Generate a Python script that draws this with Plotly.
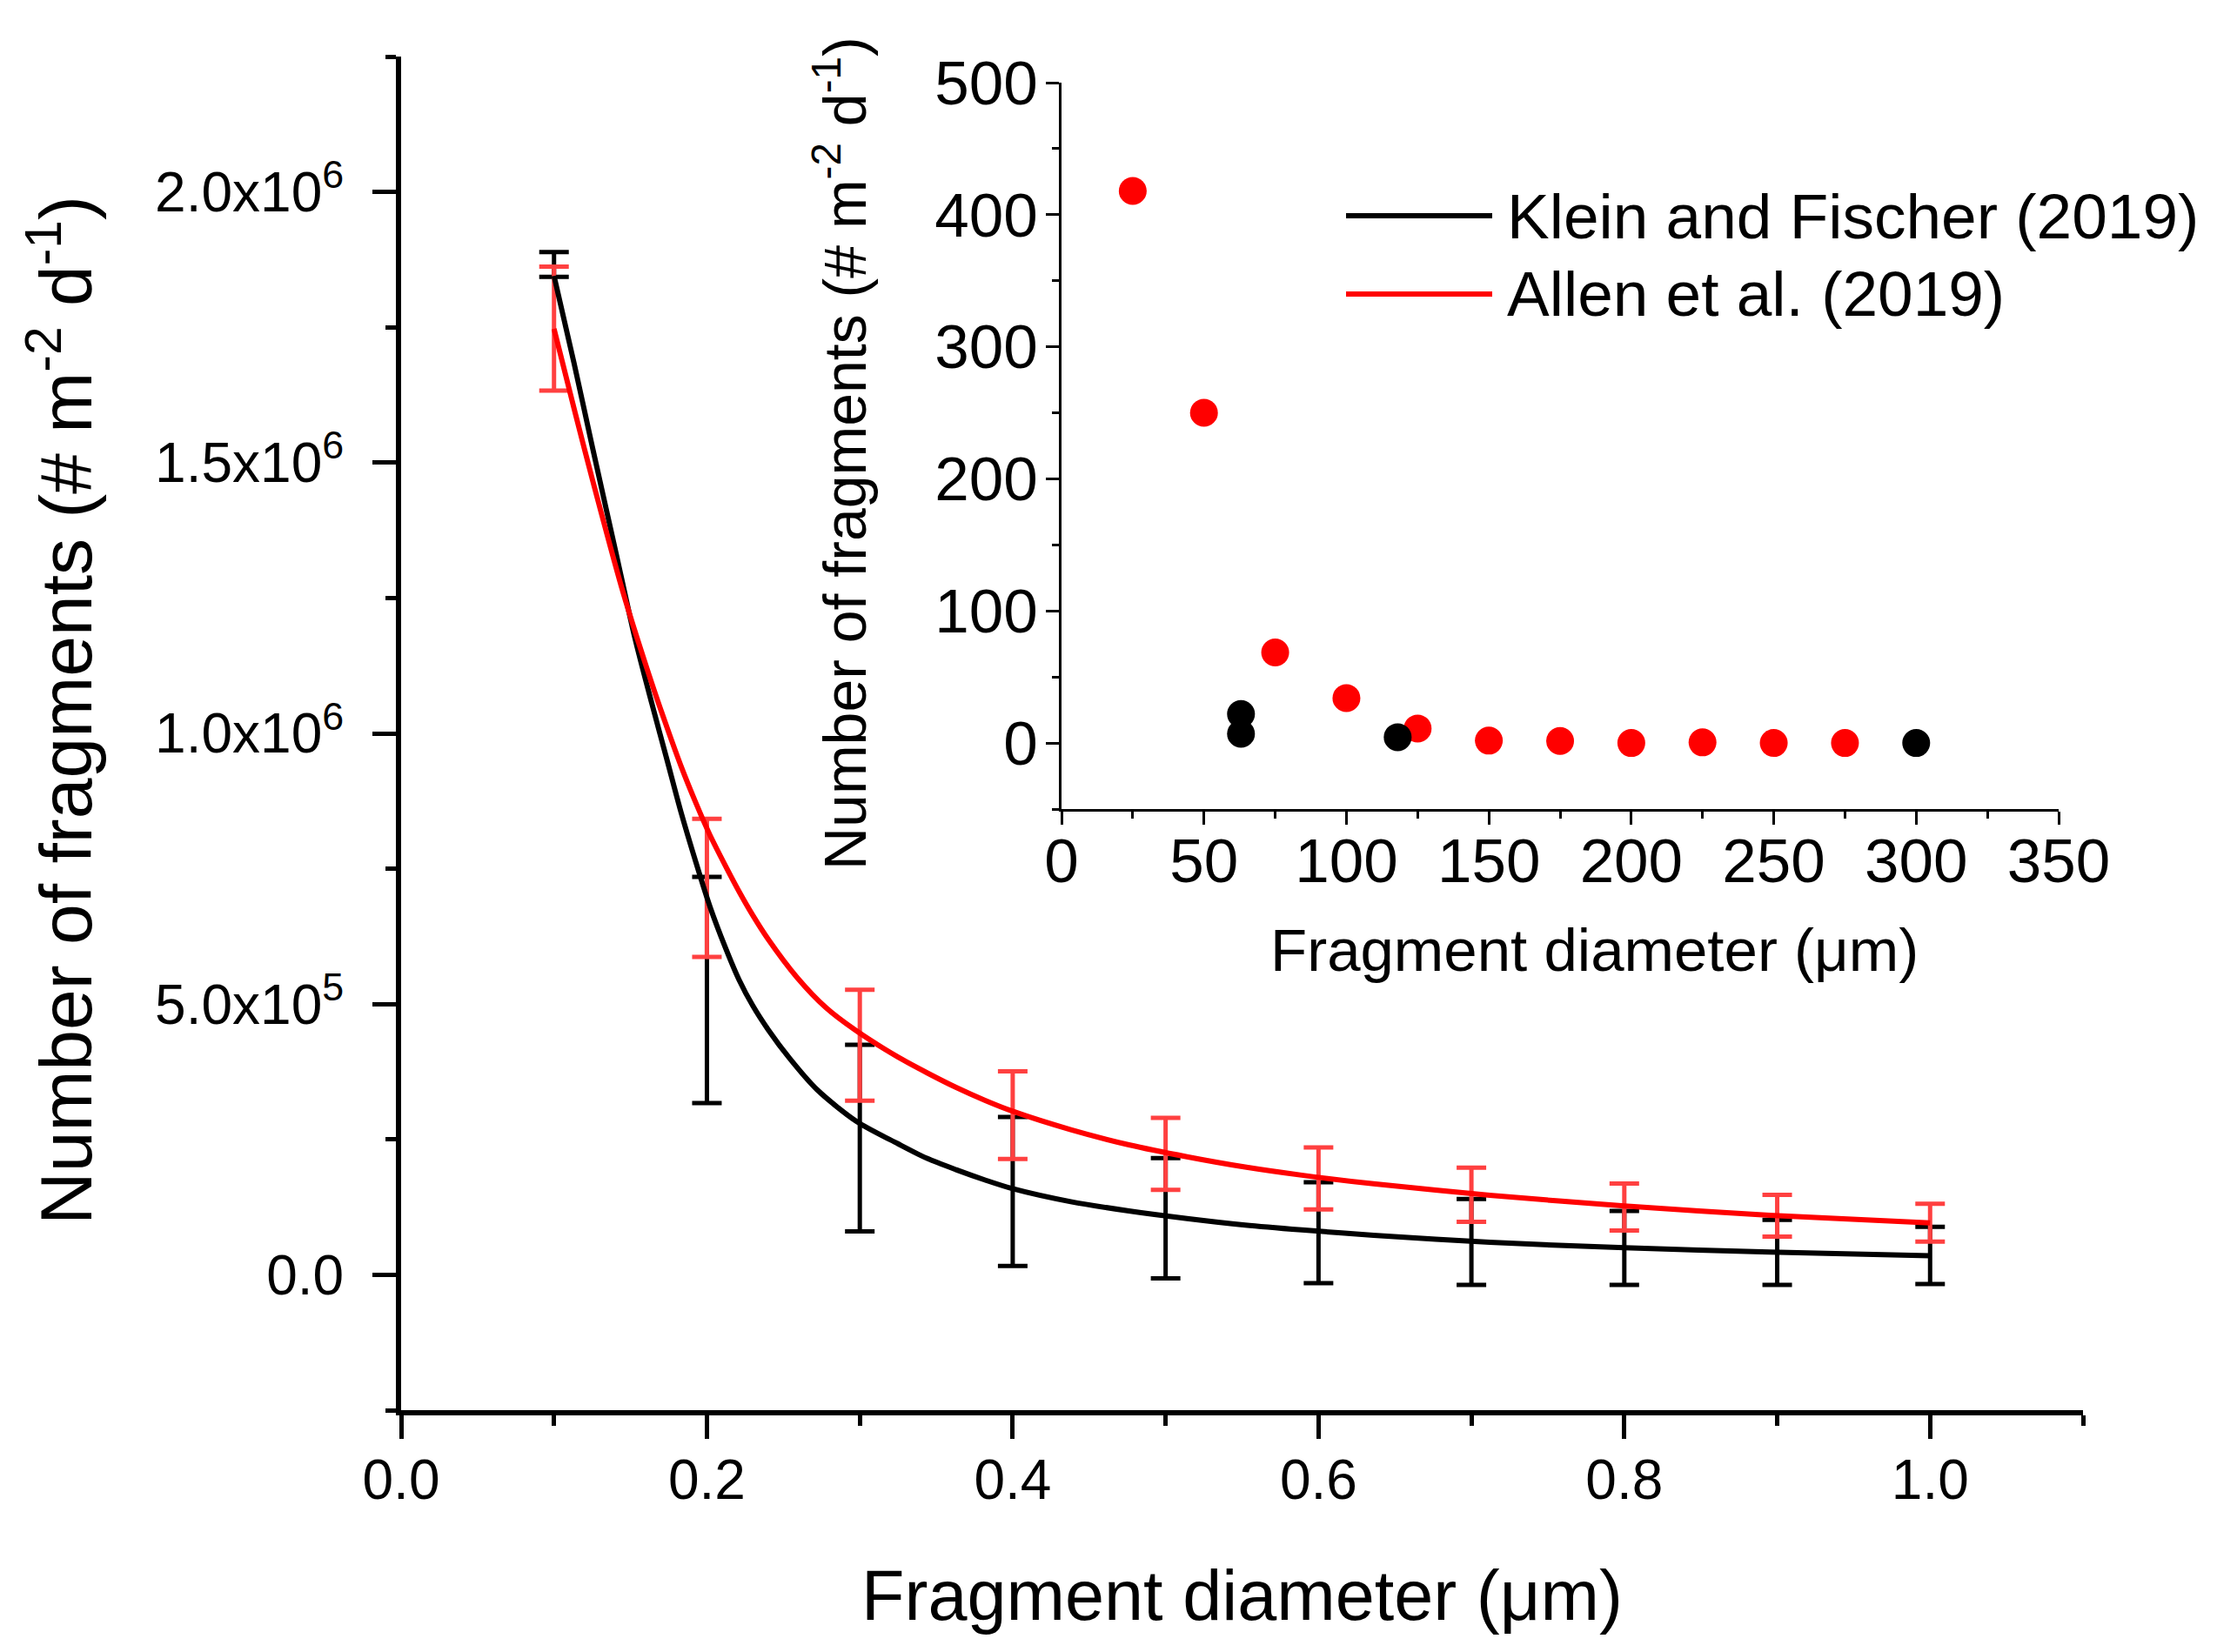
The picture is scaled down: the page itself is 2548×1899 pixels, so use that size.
import plotly.graph_objects as go

W, H = 2548, 1899
FONT = "Liberation Sans, Arial, sans-serif"
PAGE_OFFSET = 8  # default body margin of the html page

# ---- main plot: error-bar data (mean, sd) ----
err_x = [0.1, 0.2, 0.3, 0.4, 0.5, 0.6, 0.7, 0.8, 0.9, 1.0]
klein_mean = [1.866e6, 0.526e6, 0.2525e6, 0.154e6, 0.1045e6, 0.0778e6, 0.0607e6, 0.0497e6, 0.0414e6, 0.0358e6]
klein_sd = [0.023e6, 0.209e6, 0.1725e6, 0.1375e6, 0.1109e6, 0.0933e6, 0.0794e6, 0.0684e6, 0.0601e6, 0.0529e6]
allen_mean = [1.7475e6, 0.7145e6, 0.4241e6, 0.2948e6, 0.2235e6, 0.178e6, 0.1478e6, 0.1251e6, 0.109e6, 0.0962e6]
allen_sd = [0.1145e6, 0.1275e6, 0.1024e6, 0.081e6, 0.0665e6, 0.0573e6, 0.05e6, 0.0433e6, 0.0385e6, 0.0348e6]

# ---- main plot: fitted curves ----
klein_fit_x = [0.100, 0.113, 0.125, 0.140, 0.153, 0.164, 0.174, 0.183, 0.193, 0.202, 0.212, 0.221, 0.230,
               0.240, 0.254, 0.272, 0.298, 0.325, 0.344, 0.363, 0.382, 0.400, 0.438, 0.476, 0.514, 0.552,
               0.589, 0.636, 0.712, 0.800, 0.895, 1.000]
klein_fit_y = [1.845e6, 1.685e6, 1.530e6, 1.340e6, 1.175e6, 1.055e6, 0.950e6, 0.855e6, 0.760e6, 0.680e6,
               0.605e6, 0.545e6, 0.497e6, 0.453e6, 0.400e6, 0.342e6, 0.283e6, 0.242e6, 0.215e6, 0.194e6,
               0.175e6, 0.159e6, 0.135e6, 0.118e6, 0.104e6, 0.092e6, 0.083e6, 0.073e6, 0.060e6, 0.050e6,
               0.042e6, 0.035e6]
allen_fit_x = [0.100, 0.114, 0.125, 0.145, 0.164, 0.174, 0.183, 0.193, 0.202, 0.212, 0.221, 0.230, 0.240,
               0.259, 0.278, 0.297, 0.325, 0.344, 0.363, 0.382, 0.400, 0.438, 0.476, 0.514, 0.552, 0.589,
               0.636, 0.712, 0.800, 0.895, 1.000]
allen_fit_y = [1.747e6, 1.590e6, 1.470e6, 1.262e6, 1.092e6, 1.010e6, 0.940e6, 0.870e6, 0.812e6, 0.756e6,
               0.708e6, 0.664e6, 0.620e6, 0.549e6, 0.493e6, 0.452e6, 0.402e6, 0.373e6, 0.346e6, 0.322e6,
               0.302e6, 0.268e6, 0.240e6, 0.218e6, 0.199e6, 0.184e6, 0.168e6, 0.147e6, 0.127e6, 0.110e6,
               0.096e6]

# ---- inset scatter data ----
allen_d = [25, 50, 75, 100, 125, 150, 175, 200, 225, 250, 275]
allen_n = [418, 250, 68.6, 34, 11, 1.8, 1.5, 0, 0.5, 0, 0]
klein_d = [63, 63, 118, 300]
klein_n = [22, 7, 4.4, 0]

# ---- labels ----
series_names = ["Klein and Fischer (2019)", "Allen et al. (2019)"]
main_ytick_vals = [0, 0.5e6, 1.0e6, 1.5e6, 2.0e6]
main_ytick_text = ["0.0", "5.0x10<sup>5</sup>", "1.0x10<sup>6</sup>", "1.5x10<sup>6</sup>", "2.0x10<sup>6</sup>"]
main_xtick_vals = [0, 0.2, 0.4, 0.6, 0.8, 1.0]
x_title = "Fragment diameter (\u03bcm)"
y_title = "Number of fragments (# m<sup>-2</sup> d<sup>-1</sup>)"

RED = "#ff0000"
RED_ERR = "#ff4040"

fig = go.Figure()

# error bars (no markers)
fig.add_trace(go.Scatter(x=err_x, y=klein_mean, mode="markers", marker=dict(size=1, opacity=0),
                         error_y=dict(type="data", array=klein_sd, color="black", thickness=5, width=17),
                         showlegend=False, xaxis="x", yaxis="y"))
fig.add_trace(go.Scatter(x=err_x, y=allen_mean, mode="markers", marker=dict(size=1, opacity=0),
                         error_y=dict(type="data", array=allen_sd, color=RED_ERR, thickness=5, width=17),
                         showlegend=False, xaxis="x", yaxis="y"))
# fitted curves
fig.add_trace(go.Scatter(x=klein_fit_x, y=klein_fit_y, mode="lines",
                         line=dict(color="black", width=6, shape="spline", smoothing=0.8),
                         name=series_names[0], showlegend=False, xaxis="x", yaxis="y"))
fig.add_trace(go.Scatter(x=allen_fit_x, y=allen_fit_y, mode="lines",
                         line=dict(color=RED, width=6, shape="spline", smoothing=0.8),
                         name=series_names[1], showlegend=False, xaxis="x", yaxis="y"))

# inset
fig.add_trace(go.Scatter(x=allen_d, y=allen_n, mode="markers", marker=dict(color=RED, size=32, line=dict(width=0)),
                         showlegend=False, xaxis="x2", yaxis="y2", cliponaxis=False))
fig.add_trace(go.Scatter(x=klein_d, y=klein_n, mode="markers", marker=dict(color="black", size=32, line=dict(width=0)),
                         showlegend=False, xaxis="x2", yaxis="y2", cliponaxis=False))


def px_x(p):
    return (p - PAGE_OFFSET) / W


def px_y(p):
    return 1 - (p - PAGE_OFFSET) / H


main_axis_common = dict(showline=True, linecolor="black", linewidth=6, mirror=False, showgrid=False, zeroline=False,
                        automargin=False, ticks="outside", tickcolor="black", tickwidth=5, ticklen=27,
                        tickfont=dict(family=FONT, size=64, color="black"))
inset_axis_common = dict(showline=True, linecolor="black", linewidth=3, mirror=False, showgrid=False, zeroline=False,
                         automargin=False, ticks="outside", tickcolor="black", tickwidth=3, ticklen=15,
                         tickfont=dict(family=FONT, size=71, color="black"))

fig.update_layout(
    width=W, height=H,
    margin=dict(l=0, r=0, t=0, b=0, pad=0, autoexpand=False),
    paper_bgcolor="white", plot_bgcolor="rgba(0,0,0,0)",
    showlegend=False,
    font=dict(family=FONT, color="black"),
    xaxis=dict(domain=[px_x(461), px_x(2394)], range=[0, 1.1], tickvals=main_xtick_vals,
               tickformat=".1f", anchor="y", ticklabelstandoff=-8,
               minor=dict(dtick=0.1, tick0=0, ticks="outside", ticklen=12, tickwidth=5, tickcolor="black"),
               **main_axis_common),
    yaxis=dict(domain=[px_y(1621), px_y(65)], range=[-0.25e6, 2.25e6], tickvals=main_ytick_vals,
               ticktext=main_ytick_text, anchor="x", ticklabelstandoff=20,
               minor=dict(dtick=0.25e6, tick0=0, ticks="outside", ticklen=12, tickwidth=5, tickcolor="black"),
               **main_axis_common),
    xaxis2=dict(domain=[px_x(1220), px_x(2366)], range=[0, 350], dtick=50, anchor="y2", ticklabelstandoff=-19,
                minor=dict(dtick=25, tick0=0, ticks="outside", ticklen=8, tickwidth=3, tickcolor="black"),
                **inset_axis_common),
    yaxis2=dict(domain=[px_y(930), px_y(95)], range=[-50, 500], dtick=100, anchor="x2", ticklabelstandoff=-5,
                minor=dict(dtick=50, tick0=0, ticks="outside", ticklen=8, tickwidth=3, tickcolor="black"),
                **inset_axis_common),
)

annotations = [
    dict(text=x_title, x=px_x(1427), y=px_y(1834), xref="paper", yref="paper", showarrow=False,
         xanchor="center", yanchor="middle", font=dict(family=FONT, size=81, color="black")),
    dict(text=y_title, x=px_x(70), y=px_y(817), xref="paper", yref="paper", showarrow=False, textangle=-90,
         xanchor="center", yanchor="middle", font=dict(family=FONT, size=84, color="black")),
    dict(text=x_title, x=px_x(1833), y=px_y(1092), xref="paper", yref="paper", showarrow=False,
         xanchor="center", yanchor="middle", font=dict(family=FONT, size=69, color="black")),
    dict(text=y_title, x=px_x(966), y=px_y(521), xref="paper", yref="paper", showarrow=False, textangle=-90,
         xanchor="center", yanchor="middle", font=dict(family=FONT, size=68, color="black")),
]
legend_rows = [(248, "black"), (338, RED)]
shapes = []
for (row_y, col), name in zip(legend_rows, series_names):
    shapes.append(dict(type="line", xref="paper", yref="paper", x0=px_x(1547), x1=px_x(1715),
                       y0=px_y(row_y), y1=px_y(row_y), line=dict(color=col, width=6)))
    annotations.append(dict(text=name, x=px_x(1730), y=px_y(row_y), xref="paper", yref="paper", showarrow=False,
                            xanchor="left", yanchor="middle", font=dict(family=FONT, size=73, color="black")))

fig.update_layout(annotations=annotations, shapes=shapes)

fig.write_html("out.html")
